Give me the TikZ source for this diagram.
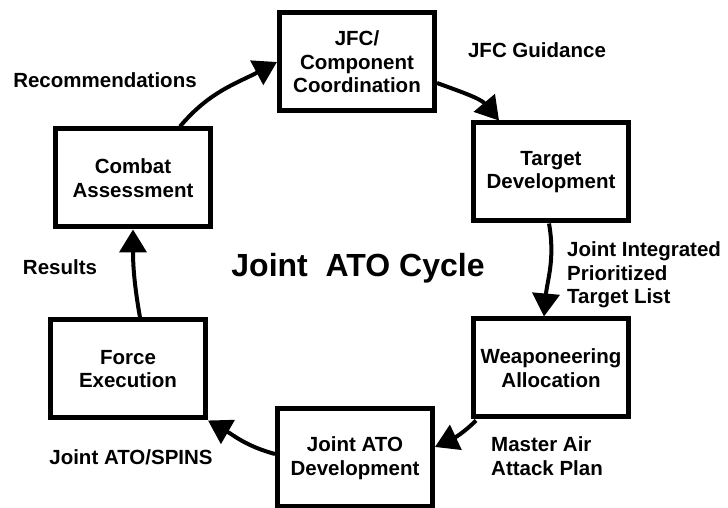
\documentclass[tikz,border=0pt]{standalone}
\usepackage{fontspec}
\setmainfont{Liberation Sans}
\usetikzlibrary{arrows.meta}

\begin{document}
\begin{tikzpicture}[x=1pt,y=1pt,font=\bfseries\fontsize{20.5}{23.5}\selectfont]
    \tikzstyle{box}=[rectangle,draw=black,line width=5pt,minimum width=155pt,minimum height=98pt,align=center,inner sep=2pt]
    \tikzstyle{flow}=[line width=4pt,-{Triangle[length=23pt,width=27pt]}]
    \tikzstyle{lbl}=[align=left,inner sep=0pt]
    \useasboundingbox (0,0) rectangle (728,508);

    \node[box] (jfc) at (357,446) {JFC/\\Component\\Coordination};
    \node[box] (target) at (551,336) {Target\\Development};
    \node[box] (weapon) at (551,140) {Weaponeering\\Allocation};
    \node[box] (atodev) at (355,50) {Joint ATO\\Development};
    \node[box] (force) at (128,139) {Force\\Execution};
    \node[box] (combat) at (133,330) {Combat\\Assessment};

    \node[lbl] (recom) at (105,428) {Recommendations};
    \node[lbl] (guid) at (537,458) {JFC Guidance};
    \node[lbl,anchor=west] (jipt) at (567,233) {Joint Integrated\\Prioritized\\Target List};
    \node[lbl,anchor=west] (maap) at (491,52) {Master Air\\Attack Plan};
    \node[lbl] (spins) at (131,51) {Joint ATO/SPINS};
    \node[lbl] (res) at (60,241) {Results};
    \node[lbl,font=\bfseries\fontsize{32}{36}\selectfont] (title) at (358,240) {Joint\ \ ATO Cycle};

    \draw[flow] ([xshift=47pt]combat.north) to[out=50,in=208] (jfc.west);
    \draw[flow] ([yshift=-21pt]jfc.east) to[out=-20,in=130] ([xshift=-52pt]target.north);
    \draw[flow] ([xshift=-2pt]target.south) to[out=-80,in=85] ([xshift=-7pt]weapon.north);
    \draw[flow] ([xshift=5pt,yshift=-1pt]weapon.south west) to[out=-135,in=25] ([yshift=11pt]atodev.east);
    \draw[flow] ([yshift=4pt]atodev.west) to[out=165,in=-30] (force.south east);
    \draw[flow] ([xshift=12pt]force.north) to[out=100,in=-90] (combat.south);
\end{tikzpicture}
\end{document}
